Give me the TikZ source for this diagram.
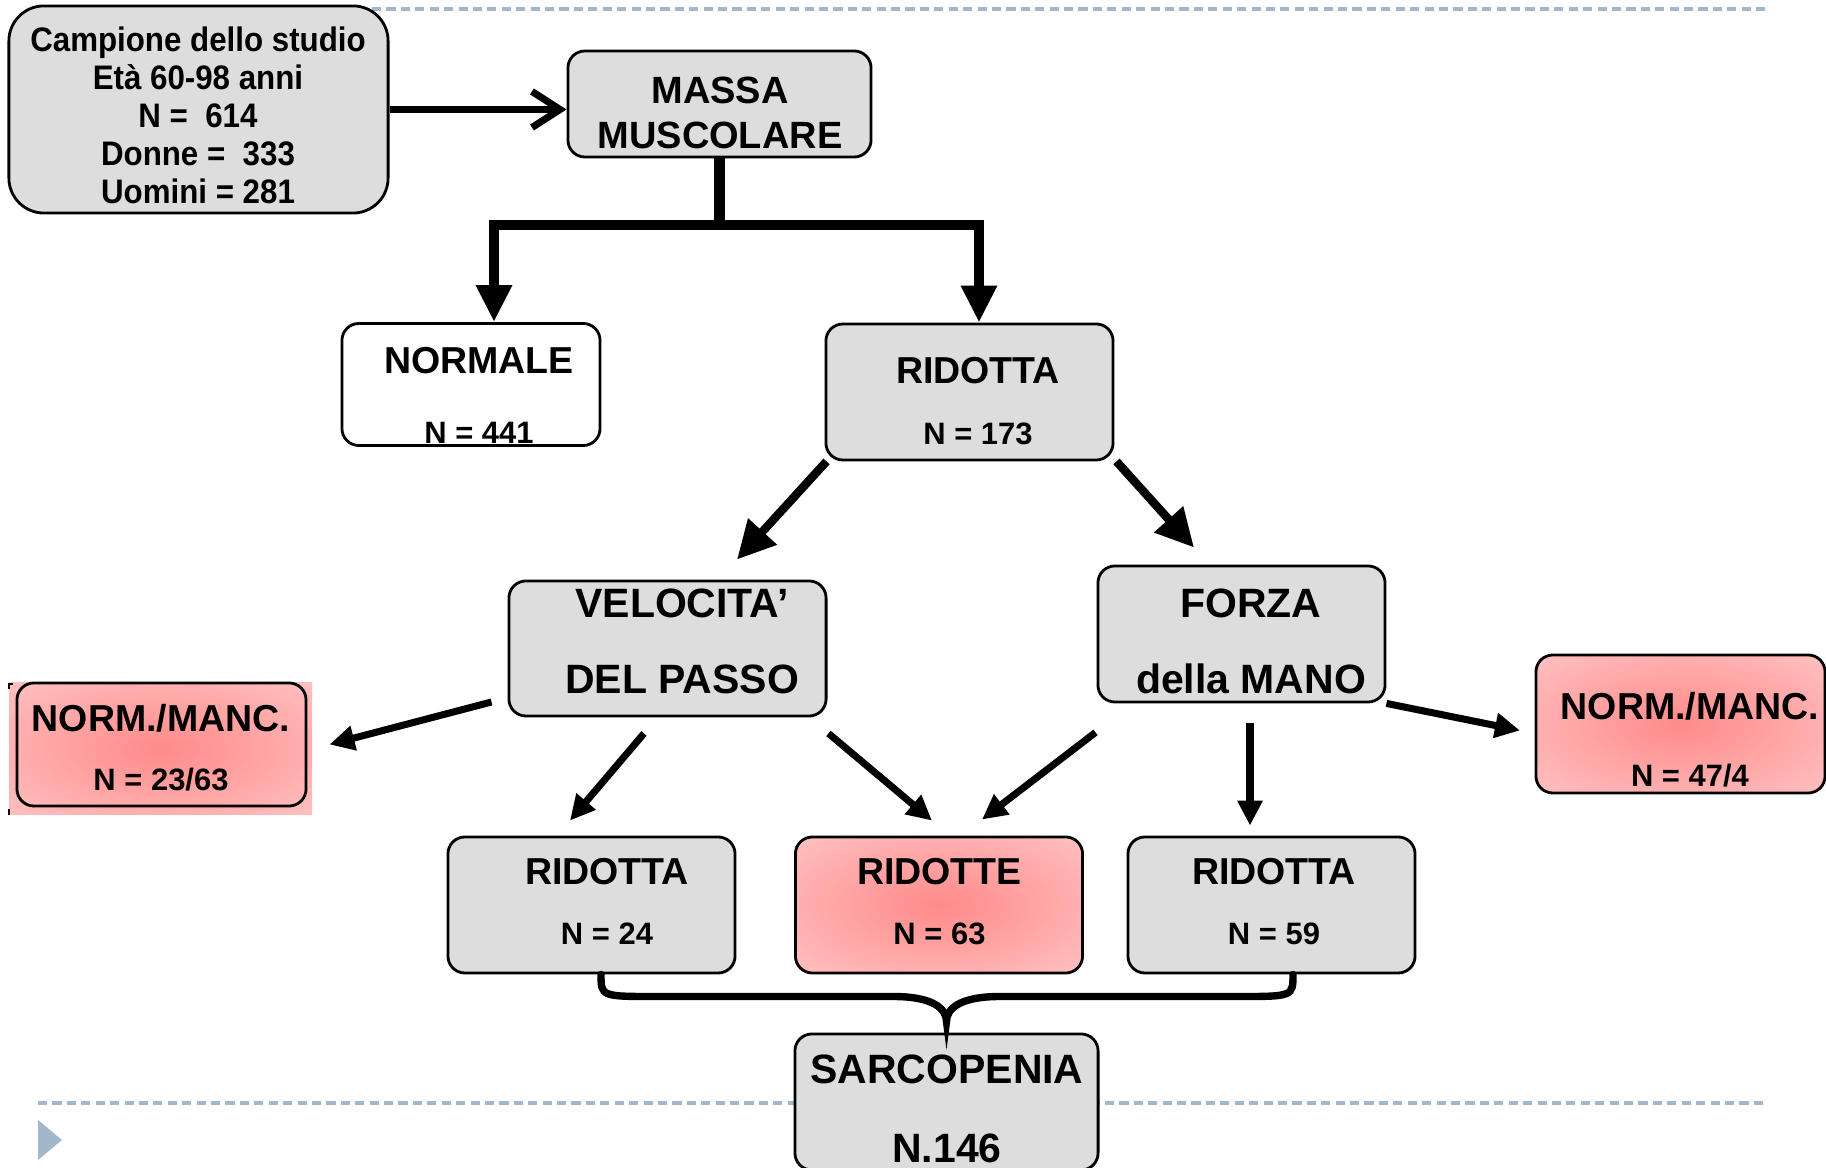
\documentclass[tikz,border=0pt]{standalone}
\usepackage{fontspec}
\setmainfont{Liberation Sans}
\newfontfamily\narrowfont{Liberation Sans}[FakeStretch=0.92]
\usetikzlibrary{arrows.meta}

\definecolor{boxgray}{RGB}{221,221,221}
\definecolor{pinkin}{RGB}{255,138,138}
\definecolor{pinkout}{RGB}{255,222,222}
\definecolor{slideblue}{RGB}{162,182,204}
\pgfdeclareradialshading{pinkglow}{\pgfpoint{0bp}{0bp}}{color(0bp)=(pinkin); color(55bp)=(pinkout); color(75bp)=(pinkout)}

\newcommand{\nsize}{\fontsize{8.8}{10}\selectfont}

\tikzset{
  flowbox/.style={draw, line width=0.8pt, rounded corners=0.17cm, fill=boxgray, inner sep=0pt},
  pinkbox/.style={flowbox, shading=pinkglow},
  ttl/.style={font=\bfseries\fontsize{10.67}{12}\selectfont, align=center, inner sep=0pt},
  bigttl/.style={font=\bfseries\fontsize{11.65}{14}\selectfont, align=center, inner sep=0pt},
  fatline/.style={line width=3.1pt},
  fatarrow/.style={line width=3.1pt, -{Triangle[length=0.37cm,width=0.34cm]}},
  midarrow/.style={line width=2.4pt, -{Triangle[length=0.38cm,width=0.37cm]}},
  thinarrow/.style={line width=2pt, -{Triangle[length=0.25cm,width=0.24cm]}},
  slideline/.style={slideblue, line width=1.4pt, dash pattern=on 2.6pt off 1.5pt},
  bracepath/.style={line width=2.1pt, line cap=round}
}

\begin{document}
\begin{tikzpicture}[x=0.01cm, y=-0.01cm]
  \useasboundingbox (0,0) rectangle (1826,1168);

  % slide frame
  \draw[slideline] (372,9) -- (1767,9);
  \draw[slideline] (38,1103) -- (1767,1103);
  \fill[slideblue] (38,1120) -- (62,1140) -- (38,1160) -- cycle;

  % pink backdrop behind the left box
  \shade[shading=pinkglow] (9,683) rectangle (312,815);
  \draw[line width=0.6pt] (13,684) -- (9.3,684) -- (9.3,689);
  \draw[line width=0.6pt] (9.3,809) -- (9.3,815);

  % Boxes
  \node[flowbox, rounded corners=0.35cm, minimum width=3.79cm, minimum height=2.07cm] (camp) at (198.5,109.5) {};
  \node[flowbox, minimum width=3.03cm, minimum height=1.06cm] (massa) at (719.5,104) {};
  \node[flowbox, fill=white, minimum width=2.58cm, minimum height=1.22cm] (normale) at (471,384.5) {};
  \node[flowbox, minimum width=2.87cm, minimum height=1.36cm] (ridotta) at (969.5,392) {};
  \node[flowbox, minimum width=3.17cm, minimum height=1.35cm] (veloc) at (667.5,648.5) {};
  \node[flowbox, minimum width=2.87cm, minimum height=1.36cm] (forza) at (1241.5,634) {};
  \node[draw, line width=0.8pt, rounded corners=0.17cm, minimum width=2.89cm, minimum height=1.23cm] (nmL) at (161.5,744.5) {};
  \node[pinkbox, minimum width=2.89cm, minimum height=1.38cm] (nmR) at (1680.5,724) {};
  \node[flowbox, minimum width=2.87cm, minimum height=1.36cm] (ridL) at (591.5,905) {};
  \node[pinkbox, minimum width=2.87cm, minimum height=1.36cm] (ridM) at (939,905) {};
  \node[flowbox, minimum width=2.87cm, minimum height=1.36cm] (ridR) at (1271.5,905) {};
  \node[flowbox, minimum width=3.03cm, minimum height=1.36cm] (sarco) at (946.5,1102) {};

  % Labels
  \node[align=center, inner sep=0pt, font=\narrowfont\bfseries\fontsize{9.67}{10.8}\selectfont] (tcamp) at (198,115)
    {Campione dello studio\\Età 60-98 anni\\N =~ 614\\Donne =~ 333\\Uomini = 281};
  \node[ttl, font=\bfseries\fontsize{10.8}{12.8}\selectfont] (tmassa) at (720,112.5) {MASSA\\MUSCOLARE};
  \node[ttl] (tnormale) at (479,395.5) {NORMALE\\[7.8pt]{\nsize N = 441}};
  \node[ttl] (tridotta) at (978,401) {RIDOTTA\\[5.35pt]{\nsize N = 173}};
  \node[bigttl] (tveloc) at (682,641) {VELOCITA’\\[7.6pt]DEL PASSO};
  \node[bigttl] (tforza) at (1251,641) {FORZA\\[7.6pt]della MANO};
  \node[ttl] (tnmL) at (161,747.5) {NORM./MANC.\\[4.9pt]{\nsize N = 23/63}};
  \node[ttl] (tnmR) at (1690,739.5) {NORM./MANC.\\[7.2pt]{\nsize N = 47/4}};
  \node[ttl] (tridL) at (607,901.5) {RIDOTTA\\[4.9pt]{\nsize N = 24}};
  \node[ttl] (tridM) at (939.5,901.5) {RIDOTTE\\[4.9pt]{\nsize N = 63}};
  \node[ttl] (tridR) at (1274,901.5) {RIDOTTA\\[4.9pt]{\nsize N = 59}};
  \node[bigttl] (tsarco) at (947,1109) {SARCOPENIA\\[8.5pt]N.146};

  % Sample to muscle mass
  \draw[line width=2pt, -{Straight Barb[length=0.28cm,width=0.36cm]}] (camp.east) -- (camp.east -| massa.west);

  % Split of muscle mass
  \coordinate (barL) at (494,225);
  \coordinate (barR) at (979,225);
  \draw[fatline] (massa.south) -- (massa.south |- barL);
  \draw[fatline, line cap=rect] (barL) -- (barR);
  \draw[fatarrow] (barL) -- (barL |- normale.north);
  \draw[fatarrow] (barR) -- (barR |- ridotta.north);

  % Reduced mass to tests
  \draw[midarrow] ([shift={(2,0)}]ridotta.south west) -- ([shift={(69.5,-20)}]veloc.north);
  \draw[midarrow] ([shift={(2,0)}]ridotta.south east) -- ([shift={(-47.5,-17)}]forza.north);

  % Tests to outcomes
  \draw[thinarrow] ([shift={(-16,53.5)}]veloc.west) -- ([shift={(22,0)}]nmL.east);
  \draw[thinarrow] ([shift={(-23.5,16)}]veloc.south) -- ([shift={(-21.5,-15)}]ridL.north);
  \draw[thinarrow] ([shift={(1,16)}]veloc.south east) -- ([shift={(-7,-15)}]ridM.north);
  \draw[thinarrow] ([shift={(-1,29)}]forza.south west) -- ([shift={(43,-16)}]ridM.north);
  \draw[thinarrow] ([shift={(8.5,20)}]forza.south) -- ([shift={(-21.5,-10)}]ridR.north);
  \draw[thinarrow] (forza.south east) -- ([shift={(-14.5,6.5)}]nmR.west);

  % Brace to sarcopenia
  \coordinate (brL) at ([xshift=0.095cm]ridL.south);
  \coordinate (brR) at ([xshift=0.215cm]ridR.south);
  \coordinate (brTip) at ([yshift=0.11cm]sarco.north);
  \coordinate (brMid) at ([yshift=0.25cm]brTip);
  \draw[bracepath] (brL) .. controls (brL |- brMid) .. ([xshift=0.56cm]brL |- brMid)
    -- ([xshift=-0.53cm]brMid) .. controls ([xshift=-0.12cm]brMid) and ([yshift=0.12cm]brTip) .. (brTip)
    .. controls ([yshift=0.12cm]brTip) and ([xshift=0.12cm]brMid) .. ([xshift=0.53cm]brMid)
    -- ([xshift=-0.56cm]brR |- brMid) .. controls (brR |- brMid) .. (brR);
\end{tikzpicture}
\end{document}
